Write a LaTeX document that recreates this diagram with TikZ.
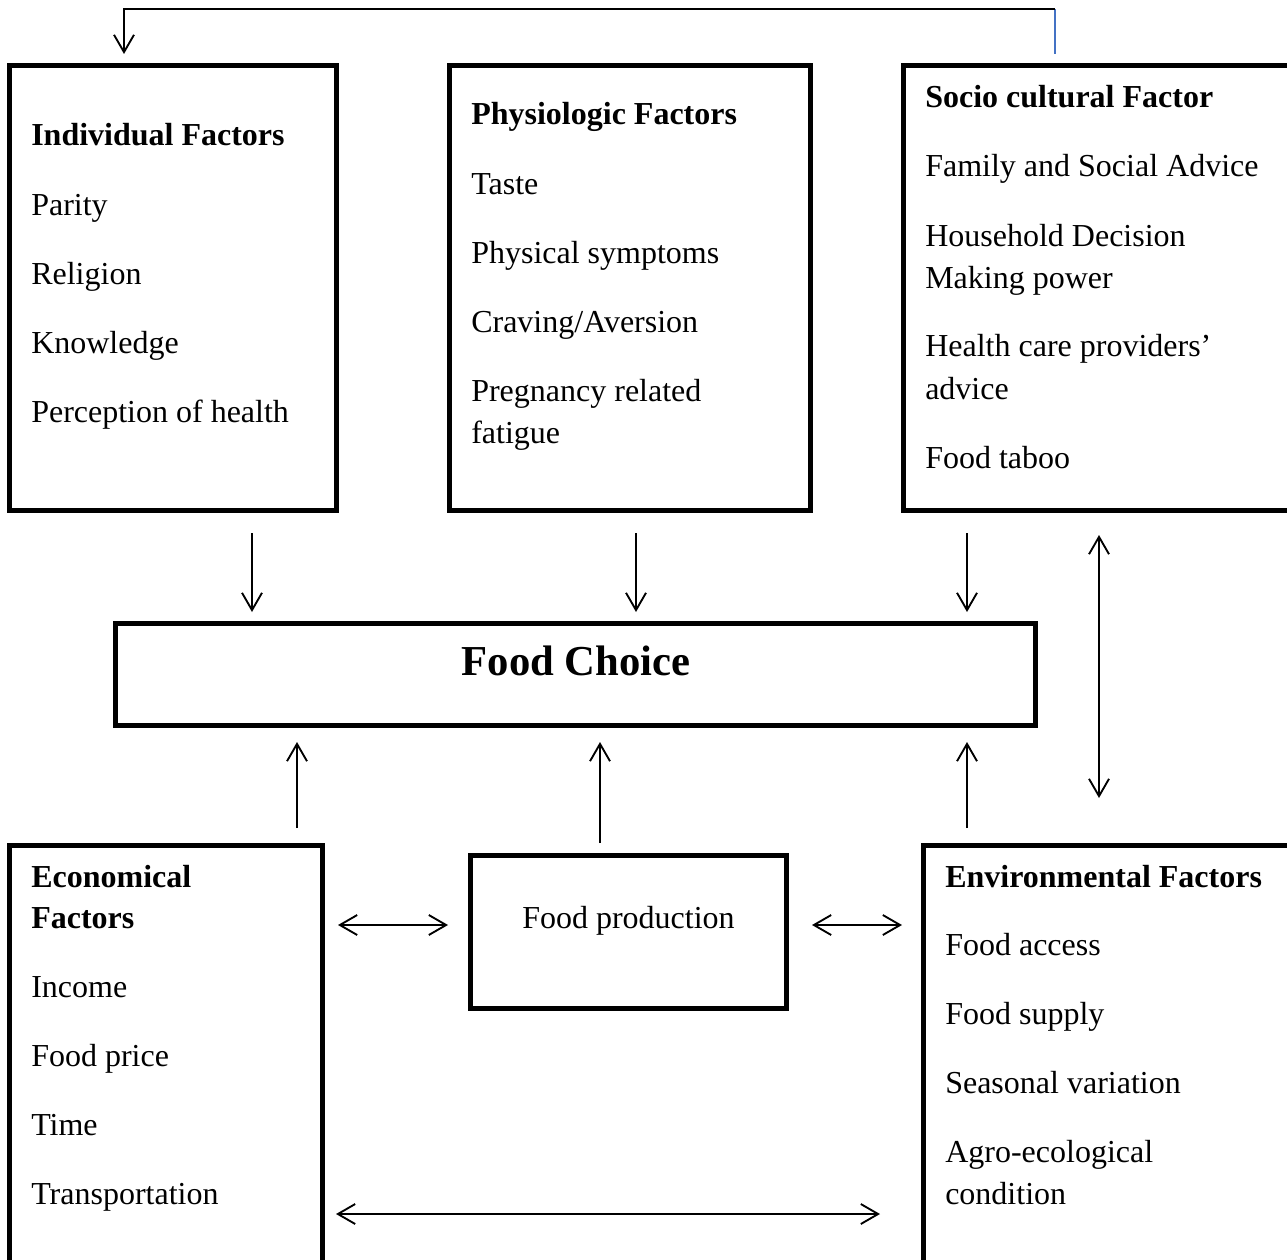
\documentclass[tikz,border=0pt]{standalone}
\usepackage{fontspec}
\setmainfont{Liberation Serif}
\usetikzlibrary{arrows.meta,calc}
\definecolor{topblue}{RGB}{68,114,196}
\begin{document}
\begin{tikzpicture}[x=0.75pt,y=-0.75pt,
  box/.style={draw,line width=3.75pt,anchor=north west,inner sep=0pt,outer sep=0pt},
  txt/.style={anchor=base west,inner sep=0pt,font=\fontsize{24}{31.5}\selectfont},
  ttl/.style={txt,font=\fontsize{24}{31.5}\selectfont\bfseries},
  arr/.style={line width=1.4pt,-{Straight Barb[length=13pt,width=15pt,line width=1.4pt]}},
  darr/.style={line width=1.4pt,{Straight Barb[length=13pt,width=15pt,line width=1.4pt]}-{Straight Barb[length=13pt,width=15pt,line width=1.4pt]}}]
\useasboundingbox (0,0) rectangle (1287,1259);
\fill[white] (0,0) rectangle (1287,1259);
% boxes
\node[box,minimum width=245.25pt,minimum height=333.75pt] (ind) at (9.5,65.5) {};
\node[box,minimum width=270.75pt,minimum height=333.75pt] (phy) at (449.5,65.5) {};
\node[box,minimum width=297pt,minimum height=333.75pt] (soc) at (903.5,65.5) {};
\node[box,minimum width=690pt,minimum height=76.5pt] (fc) at (115.5,623.5) {};
\node[box,minimum width=234.75pt,minimum height=320pt] (eco) at (9.5,845.5) {};
\node[box,minimum width=237pt,minimum height=114.75pt] (fp) at (470.5,855) {};
\node[box,minimum width=282pt,minimum height=320pt] (env) at (923.5,845.5) {};
% texts: individual
\node[ttl] (t1) at (31,146) {Individual Factors};
\node[txt] (t2) at (31,215) {Parity};
\node[txt] (t3) at (31,284) {Religion};
\node[txt] (t4) at (31,353) {Knowledge};
\node[txt] (t5) at (31,422) {Perception of health};
% physiologic
\node[ttl] (p1) at (471,125) {Physiologic Factors};
\node[txt] (p2) at (471,194) {Taste};
\node[txt] (p3) at (471,263) {Physical symptoms};
\node[txt] (p4) at (471,332) {Craving/Aversion};
\node[txt] (p5) at (471,401) {Pregnancy related};
\node[txt] (p6) at (471,443) {fatigue};
% socio cultural
\node[ttl] (s1) at (925,108) {Socio cultural Factor};
\node[txt] (s2) at (925,176) {Family and Social Advice};
\node[txt] (s3) at (925,246) {Household Decision};
\node[txt] (s4) at (925,288) {Making power};
\node[txt] (s5) at (925,356) {Health care providers’};
\node[txt] (s6) at (925,399) {advice};
\node[txt] (s7) at (925,468) {Food taboo};
% food choice
\node[anchor=base,inner sep=0pt,font=\fontsize{32}{38}\selectfont\bfseries] (fct) at (576,675) {Food Choice};
% economical
\node[ttl] (e1) at (31,887) {Economical};
\node[ttl] (e2) at (31,928) {Factors};
\node[txt] (e3) at (31,997) {Income};
\node[txt] (e4) at (31,1066) {Food price};
\node[txt] (e5) at (31,1135) {Time};
\node[txt] (e6) at (31,1204) {Transportation};
% food production
\node[txt] (f1) at (522,928) {Food production};
% environmental
\node[ttl] (v1) at (945,887) {Environmental Factors};
\node[txt] (v2) at (945,955) {Food access};
\node[txt] (v3) at (945,1024) {Food supply};
\node[txt] (v4) at (945,1093) {Seasonal variation};
\node[txt] (v5) at (945,1162) {Agro-ecological};
\node[txt] (v6) at (945,1204) {condition};
% top feedback connector
\coordinate (tb) at ($(soc.north west)+(151.5,-11.5)$);
\coordinate (tt) at ($(soc.north west)+(151.5,-56.5)$);
\coordinate (tl) at ($(ind.north west)+(114.5,-56.5)$);
\draw[topblue,line width=1.4pt] (tb) -- (tt);
\draw[arr] (tt) -- (tl) -- ($(ind.north west)+(114.5,-11.5)$);
% down arrows to food choice
\draw[arr] ($(ind.south west)+(242.5,22.5)$) -- ($(fc.north west)+(136.5,-11.5)$);
\draw[arr] ($(phy.south west)+(186.5,22.5)$) -- ($(fc.north west)+(520.5,-11.5)$);
\draw[arr] ($(soc.south west)+(63.5,22.5)$) -- ($(fc.north west)+(851.5,-11.5)$);
% up arrows to food choice
\draw[arr] ($(eco.north west)+(287.5,-17.5)$) -- ($(fc.south west)+(181.5,16.5)$);
\draw[arr] ($(fp.north west)+(129.5,-12)$) -- ($(fc.south west)+(484.5,16.5)$);
\draw[arr] ($(env.north west)+(43.5,-17.5)$) -- ($(fc.south west)+(851.5,16.5)$);
% double arrows
\draw[darr] ($(soc.south west)+(195.5,24.5)$) -- ($(env.north west)+(175.5,-47.5)$);
\draw[darr] ($(eco.north west)+(328.5,79.5)$) -- ($(fp.north west)+(-22.5,70)$);
\draw[darr] ($(fp.north west)+(341.5,70)$) -- ($(env.north west)+(-21.5,79.5)$);
\draw[darr] ($(eco.north west)+(326.5,368.5)$) -- ($(env.north west)+(-43.5,368.5)$);
\end{tikzpicture}
\end{document}
